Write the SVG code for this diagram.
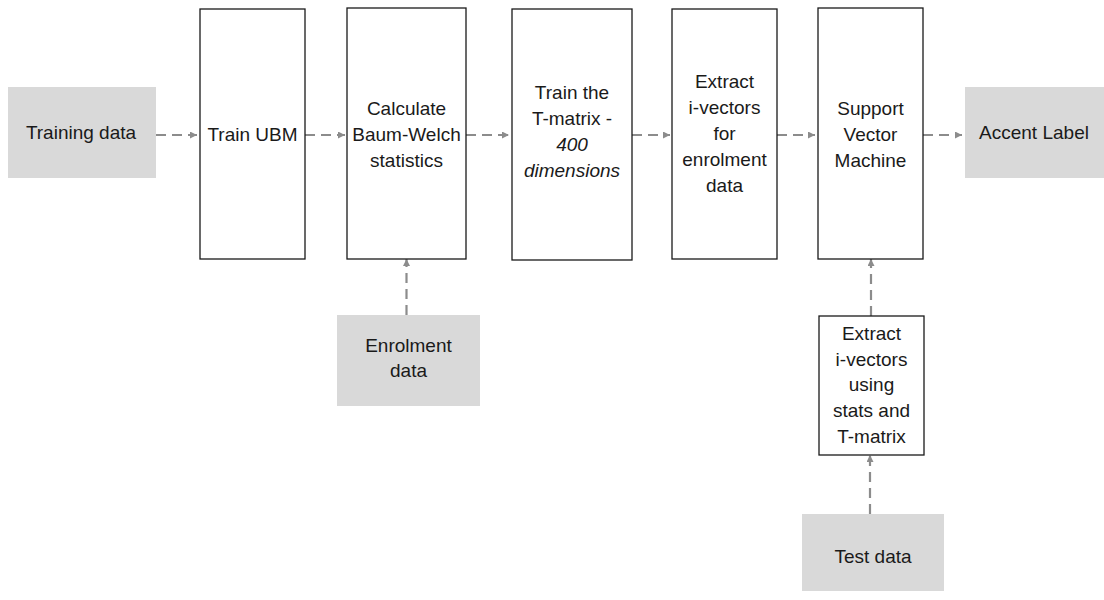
<svg xmlns="http://www.w3.org/2000/svg" width="1104" height="600" viewBox="0 0 1104 600">
  <style>
    .proc { fill: #ffffff; stroke: #1a1a1a; stroke-width: 1.3; }
    .data { fill: #d9d9d9; stroke: none; }
    .lbl { font-family: "Liberation Sans", Arial, sans-serif; font-size: 19px; fill: #1a1a1a; text-anchor: middle; }
    .it { font-style: italic; }
    .flow { stroke: #8c8c8c; stroke-width: 2.2; stroke-dasharray: 10 6; fill: none; marker-end: url(#tip); }
  </style>
  <defs>
    <marker id="tip" viewBox="0 0 7 7" refX="7" refY="3.5" markerWidth="7" markerHeight="7" markerUnits="userSpaceOnUse" orient="auto">
      <path d="M0,0 L7,3.5 L0,7 Z" fill="#8c8c8c"/>
    </marker>
  </defs>
  <rect width="1104" height="600" fill="#ffffff"/>

  <!-- connectors -->
  <g id="connectors">
    <line class="flow" x1="156" y1="135" x2="197" y2="135"/>
    <line class="flow" x1="305" y1="135" x2="345" y2="135"/>
    <line class="flow" x1="466" y1="135" x2="509" y2="135"/>
    <line class="flow" x1="632" y1="135" x2="670" y2="135"/>
    <line class="flow" x1="777" y1="135" x2="815" y2="135"/>
    <line class="flow" x1="923" y1="135" x2="962" y2="135"/>
    <line class="flow" x1="406.5" y1="315" x2="406.5" y2="259"/>
    <line class="flow" x1="871" y1="316" x2="871" y2="259"/>
    <line class="flow" x1="870" y1="514" x2="870" y2="455"/>
  </g>

  <g id="training-data">
    <rect class="data" x="8" y="87" width="148" height="91"/>
    <text class="lbl" x="81" y="139">Training data</text>
  </g>

  <g id="train-ubm">
    <rect class="proc" x="200" y="9" width="105" height="250"/>
    <text class="lbl" x="252.5" y="141">Train UBM</text>
  </g>

  <g id="baum-welch">
    <rect class="proc" x="347" y="8" width="119" height="251"/>
    <text class="lbl" x="406.5" y="115">Calculate</text>
    <text class="lbl" x="406.5" y="141">Baum-Welch</text>
    <text class="lbl" x="406.5" y="167">statistics</text>
  </g>

  <g id="t-matrix">
    <rect class="proc" x="512" y="9" width="120" height="251"/>
    <text class="lbl" x="572" y="99">Train the</text>
    <text class="lbl" x="572" y="125">T-matrix -</text>
    <text class="lbl it" x="572" y="151">400</text>
    <text class="lbl it" x="572" y="177">dimensions</text>
  </g>

  <g id="extract-enrolment">
    <rect class="proc" x="672" y="9" width="105" height="250"/>
    <text class="lbl" x="724.5" y="88">Extract</text>
    <text class="lbl" x="724.5" y="114">i-vectors</text>
    <text class="lbl" x="724.5" y="140">for</text>
    <text class="lbl" x="724.5" y="166">enrolment</text>
    <text class="lbl" x="724.5" y="192">data</text>
  </g>

  <g id="svm">
    <rect class="proc" x="818" y="8" width="105" height="251"/>
    <text class="lbl" x="870.5" y="115">Support</text>
    <text class="lbl" x="870.5" y="141">Vector</text>
    <text class="lbl" x="870.5" y="167">Machine</text>
  </g>

  <g id="accent-label">
    <rect class="data" x="965" y="87" width="139" height="91"/>
    <text class="lbl" x="1034" y="139">Accent Label</text>
  </g>

  <g id="enrolment-data">
    <rect class="data" x="337" y="315" width="143" height="91"/>
    <text class="lbl" x="408.5" y="352">Enrolment</text>
    <text class="lbl" x="408.5" y="377">data</text>
  </g>

  <g id="extract-test">
    <rect class="proc" x="819" y="316" width="105" height="139"/>
    <text class="lbl" x="871.5" y="340">Extract</text>
    <text class="lbl" x="871.5" y="366">i-vectors</text>
    <text class="lbl" x="871.5" y="391">using</text>
    <text class="lbl" x="871.5" y="417">stats and</text>
    <text class="lbl" x="871.5" y="443">T-matrix</text>
  </g>

  <g id="test-data">
    <rect class="data" x="802" y="514" width="142" height="77"/>
    <text class="lbl" x="873" y="563">Test data</text>
  </g>
</svg>
